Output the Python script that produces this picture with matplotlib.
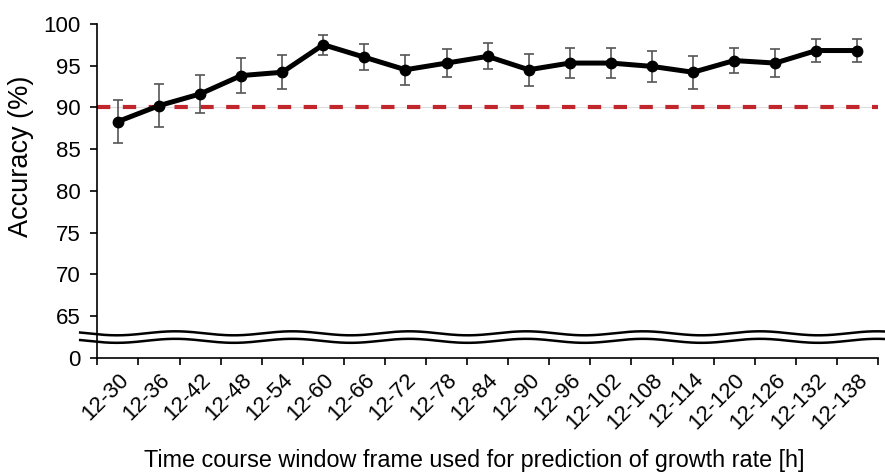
import numpy as np
import matplotlib.pyplot as plt
import matplotlib.transforms as mtransforms

plt.rcParams['font.family'] = ['Liberation Sans', 'DejaVu Sans']

# data
windows = ["12-30", "12-36", "12-42", "12-48", "12-54", "12-60", "12-66",
           "12-72", "12-78", "12-84", "12-90", "12-96", "12-102", "12-108",
           "12-114", "12-120", "12-126", "12-132", "12-138"]
accuracy = [88.3, 90.2, 91.6, 93.8, 94.2, 97.5, 96.0, 94.5, 95.3, 96.1,
            94.5, 95.3, 95.3, 94.9, 94.2, 95.6, 95.3, 96.8, 96.8]
errors = [2.6, 2.6, 2.3, 2.1, 2.05, 1.2, 1.55, 1.8, 1.7, 1.55,
          1.9, 1.75, 1.75, 1.9, 2.0, 1.45, 1.7, 1.35, 1.35]
threshold = 90

# y axis is broken: bottom tick stands for 0, drawn one step below 65
ytick_pos = [60, 65, 70, 75, 80, 85, 90, 95, 100]
ytick_lab = ["0", "65", "70", "75", "80", "85", "90", "95", "100"]

fig = plt.figure(figsize=(8.85, 4.76), dpi=100)
ax = fig.add_axes([0.11, 0.248, 0.882, 0.702])

x = np.arange(len(windows))

ax.axhline(threshold, color='#dddddd', lw=0.8, zorder=1)
ax.axhline(threshold, color='#c0262b', lw=3, dashes=(3.2, 3.0), zorder=2)

ax.errorbar(x, accuracy, yerr=errors, fmt='none', ecolor='#555555',
            elinewidth=1.2, capsize=3.5, capthick=1.2, zorder=3)
ax.plot(x, accuracy, color='black', lw=3.6, marker='o', ms=7.5, zorder=4)

ax.set_xlim(-0.5, len(windows) - 0.5)
ax.set_ylim(60, 100)
ax.set_yticks(ytick_pos)
ax.set_yticklabels(ytick_lab, fontsize=16)
ax.tick_params(axis='y', length=5, width=1.2, pad=7)

ax.set_xticks(x)
ax.set_xticklabels(windows, fontsize=16, rotation=45, ha='right', va='top',
                   rotation_mode='anchor')
ax.set_xticks(np.arange(len(windows) + 1) - 0.5, minor=True)
ax.tick_params(axis='x', which='major', length=0, pad=8)
ax.tick_params(axis='x', which='minor', length=5, width=1.2)

for side in ['top', 'right']:
    ax.spines[side].set_visible(False)
for side in ['left', 'bottom']:
    ax.spines[side].set_linewidth(1.2)

ax.set_ylabel("Accuracy (%)", fontsize=19.5)
ax.yaxis.set_label_coords(-0.081, 0.602)
ax.set_xlabel("Time course window frame used for prediction of growth rate [h]",
              fontsize=16.8)
ax.xaxis.set_label_coords(0.483, -0.272)

# wavy break marks
trans = mtransforms.blended_transform_factory(ax.transAxes, ax.transData)
wx = np.linspace(-0.022, 1.01, 400)
px = wx * 781
for yc in [62.95, 62.05]:
    wy = yc + 0.24 * np.cos(2 * np.pi * (px + 97 - 175) / 117)
    ax.plot(wx, wy, color='black', lw=1.8, transform=trans, clip_on=False, zorder=5)

fig.savefig("out.png", dpi=100)
